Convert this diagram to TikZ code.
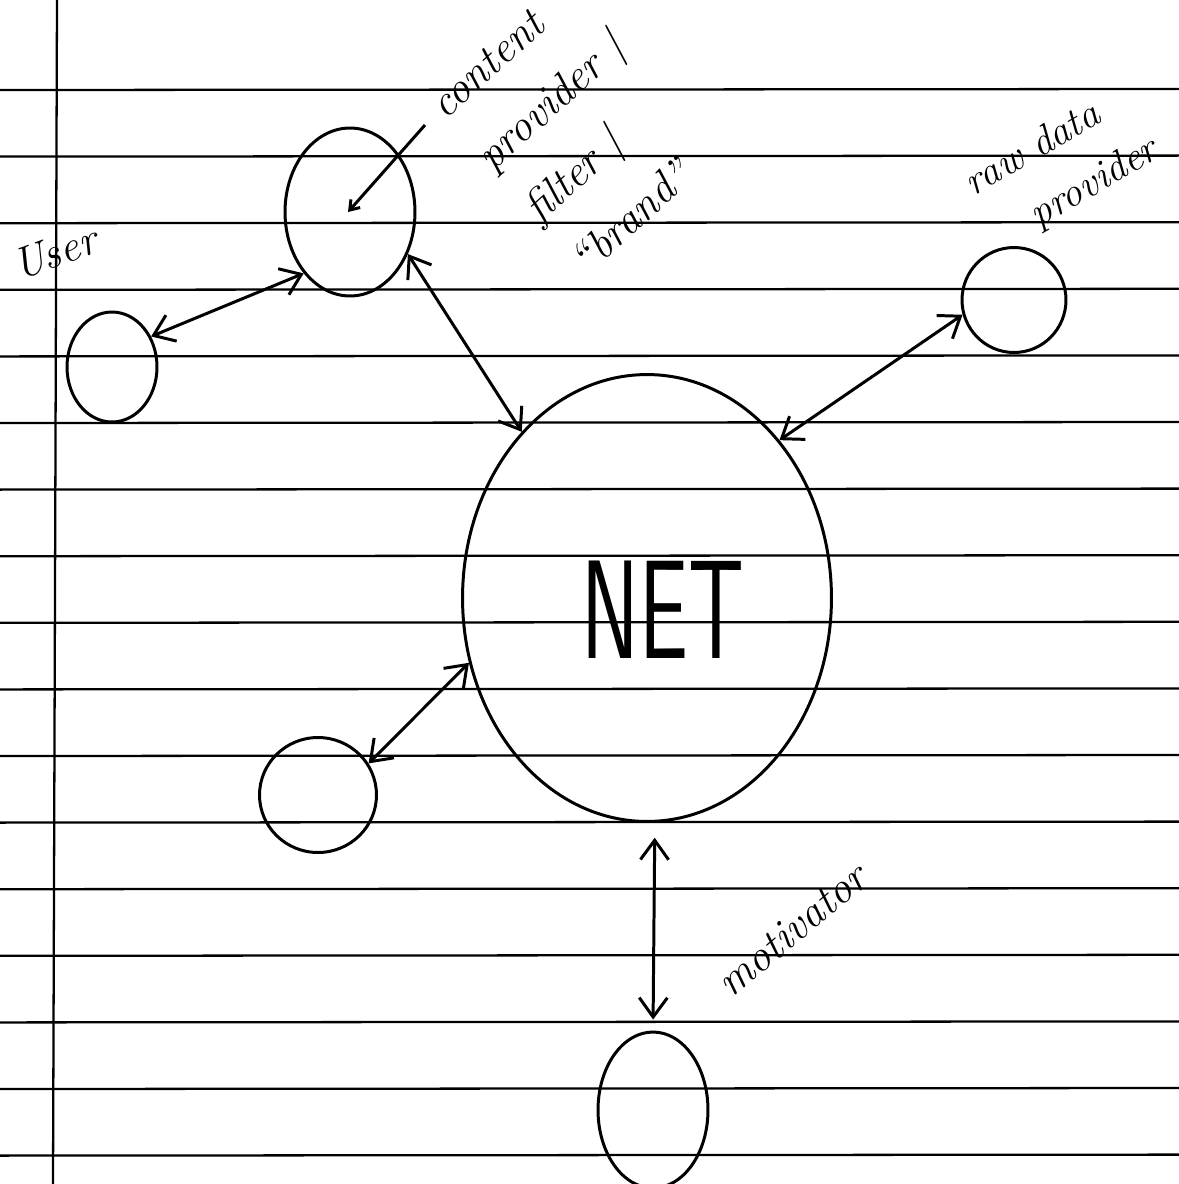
\documentclass[tikz,border=0pt]{standalone}
\usepackage{graphicx}
\usetikzlibrary{shapes.geometric,arrows.meta}
\begin{document}
\begin{tikzpicture}[
  x=0.02cm, y=-0.02cm,
  rule/.style={line width=1.3pt},
  blob/.style={draw,ellipse,line width=1.7pt,inner sep=0pt},
  hand/.style={font=\fontsize{25}{40}\selectfont\itshape,inner sep=0pt,align=left},
  arr/.style={{Straight Barb[length=11pt,width=16pt]}-{Straight Barb[length=11pt,width=16pt]},line width=1.7pt},
  ptr/.style={-{Straight Barb[length=5pt,width=7pt]},line width=1.7pt}
]
\fill[white] (0,0) rectangle (1179,1184);
\useasboundingbox (0,0) rectangle (1179,1184);
\foreach \k in {0,...,16}
  \draw[rule] (0,90+66.6*\k) -- (1179,89+66.6*\k);
\draw[rule] (57,0) -- (53,1184);

\node[blob,minimum width=1.8cm,minimum height=2.2cm] (user) at (112,367) {};
\node[blob,minimum width=2.6cm,minimum height=3.36cm] (cp) at (350,212) {};
\node[blob,minimum width=7.38cm,minimum height=8.94cm] (net) at (647,598) {};
\node[blob,minimum width=2.08cm,minimum height=2.1cm] (rd) at (1014,300) {};
\node[blob,minimum width=2.34cm,minimum height=2.3cm] (bl) at (318,795) {};
\node[blob,minimum width=2.2cm,minimum height=3.12cm] (mot) at (653,1110) {};

\node[font=\fontsize{80}{80}\sffamily,inner sep=0pt] (netlbl) at (663,610) {\scalebox{0.62}[1]{NET}};
\node[hand,rotate=20] (userlbl) at (55,252) {User};
\node[hand,rotate=42] (cplbl) at (574,128) {content\\ provider \textbar\\ filter \textbar\\ “brand”};
\node[hand,rotate=30,font=\fontsize{23}{34}\selectfont\itshape] (rdlbl) at (1062,168) {raw data\\ \hspace*{1em}provider};
\node[hand,rotate=40] (motlbl) at (792,930) {motivator};
\coordinate (cptag) at (425,125);
\coordinate (cpdot) at (348,212);

\draw[ptr] (cptag) -- (cpdot);
\draw[arr] (user.38) -- (cp.233);
\draw[arr] (cp.324) -- (net.127);
\draw[arr] (rd.196) -- (net.50);
\draw[arr] (bl.32) -- (net.200);
\draw[arr,shorten <=0.3cm,shorten >=0.22cm] (net.272) -- (mot.90);
\end{tikzpicture}
\end{document}
